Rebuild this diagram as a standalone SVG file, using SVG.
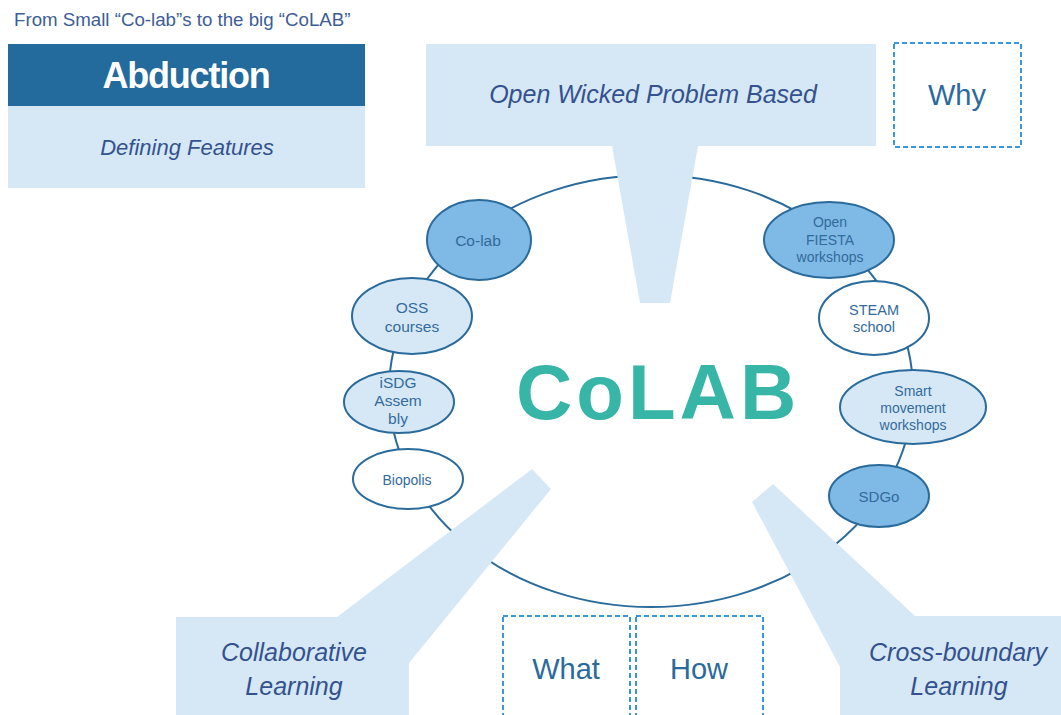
<svg xmlns="http://www.w3.org/2000/svg" width="1061" height="715" viewBox="0 0 1061 715">
<style>
.sans{font-family:"Liberation Sans",Arial,sans-serif}
.callout{fill:#d6e8f6;stroke:none}
.cap{font-family:"Liberation Sans",Arial,sans-serif;font-style:italic;font-size:25px;fill:#34528f;text-anchor:middle}
.dash{fill:none;stroke:#3a97dc;stroke-width:2;stroke-dasharray:5 3}
.q{font-family:"Liberation Sans",Arial,sans-serif;font-size:29px;fill:#2b6a9e;text-anchor:middle}
.ring{fill:none;stroke:#2a6b9c;stroke-width:2}
.node ellipse{stroke:#2a6b9c;stroke-width:2}
.mid{fill:#7fb9e5}
.light{fill:#d6e8f6}
.white{fill:#ffffff}
.nt{font-family:"Liberation Sans",Arial,sans-serif;fill:#336b9c;text-anchor:middle}
</style>

<text id="title" class="sans" x="14" y="26" font-size="18.7" fill="#3d5d98">From Small “Co-lab”s to the big “CoLAB”</text>

<g id="abduction">
  <rect x="8" y="44" width="357" height="62" fill="#236a9d"/>
  <text x="186" y="88" class="sans" font-size="36" font-weight="bold" fill="#ffffff" text-anchor="middle" letter-spacing="-1.2">Abduction</text>
  <rect x="8" y="106" width="357" height="82" fill="#d6e8f6"/>
  <text x="187" y="155" class="sans" font-size="22" font-style="italic" fill="#34528f" text-anchor="middle">Defining Features</text>
</g>

<g id="connectors">
  <ellipse class="ring" cx="651" cy="391" rx="262" ry="216"/>
</g>

<g id="callout-open-wicked">
  <path class="callout" d="M426,44 H876 V146 H698 L670,303 H640 L612,146 H426 Z"/>
  <text class="cap" x="653" y="103">Open Wicked Problem Based</text>
</g>

<g id="callout-collaborative">
  <path class="callout" d="M176,617 H337 L532,469 L551,489 L409,663 V715 H176 Z"/>
  <text class="cap" x="294" y="661">Collaborative</text>
  <text class="cap" x="294" y="695">Learning</text>
</g>

<g id="callout-cross-boundary">
  <path class="callout" d="M752,502 L773,484 L915,616 H1061 V715 H840 V667 Z"/>
  <text class="cap" x="958" y="661">Cross-boundary</text>
  <text class="cap" x="959" y="695">Learning</text>
</g>

<g id="why">
  <rect class="dash" x="894" y="43" width="127" height="104"/>
  <text class="q" x="957" y="105">Why</text>
</g>
<g id="what">
  <rect class="dash" x="503" y="616" width="127" height="104"/>
  <text class="q" x="566" y="679">What</text>
</g>
<g id="how">
  <rect class="dash" x="636" y="616" width="127" height="104"/>
  <text class="q" x="699" y="679">How</text>
</g>

<g id="node-colab" class="node">
  <ellipse class="mid" cx="479" cy="240" rx="52" ry="40"/>
  <text class="nt" x="478" y="246" font-size="15.5">Co-lab</text>
</g>
<g id="node-oss" class="node">
  <ellipse class="light" cx="412" cy="316" rx="60" ry="38"/>
  <text class="nt" x="412" y="313" font-size="15.5">OSS</text>
  <text class="nt" x="412" y="332" font-size="15.5">courses</text>
</g>
<g id="node-isdg" class="node">
  <ellipse class="light" cx="399" cy="402" rx="55" ry="31"/>
  <text class="nt" x="398" y="388" font-size="15.5">iSDG</text>
  <text class="nt" x="398" y="406" font-size="15.5">Assem</text>
  <text class="nt" x="398" y="424" font-size="15.5">bly</text>
</g>
<g id="node-biopolis" class="node">
  <ellipse class="white" cx="408" cy="479" rx="55" ry="30"/>
  <text class="nt" x="407" y="485" font-size="14">Biopolis</text>
</g>
<g id="node-fiesta" class="node">
  <ellipse class="mid" cx="829" cy="240" rx="65" ry="38"/>
  <text class="nt" x="830" y="227" font-size="14">Open</text>
  <text class="nt" x="830" y="245" font-size="14">FIESTA</text>
  <text class="nt" x="830" y="262" font-size="14">workshops</text>
</g>
<g id="node-steam" class="node">
  <ellipse class="white" cx="874" cy="318" rx="55" ry="37"/>
  <text class="nt" x="874" y="315" font-size="14.5">STEAM</text>
  <text class="nt" x="874" y="332" font-size="14.5">school</text>
</g>
<g id="node-smart" class="node">
  <ellipse class="light" cx="913" cy="407" rx="73" ry="37"/>
  <text class="nt" x="913" y="396" font-size="14">Smart</text>
  <text class="nt" x="913" y="413" font-size="14">movement</text>
  <text class="nt" x="913" y="430" font-size="14">workshops</text>
</g>
<g id="node-sdgo" class="node">
  <ellipse class="mid" cx="879" cy="496" rx="50" ry="31"/>
  <text class="nt" x="879" y="502" font-size="15">SDGo</text>
</g>

<text id="colab-title" x="516" y="419" font-family="'Liberation Sans',Arial,sans-serif" font-size="78" font-weight="bold" fill="#37b5a6" letter-spacing="4">CoLAB</text>
</svg>
